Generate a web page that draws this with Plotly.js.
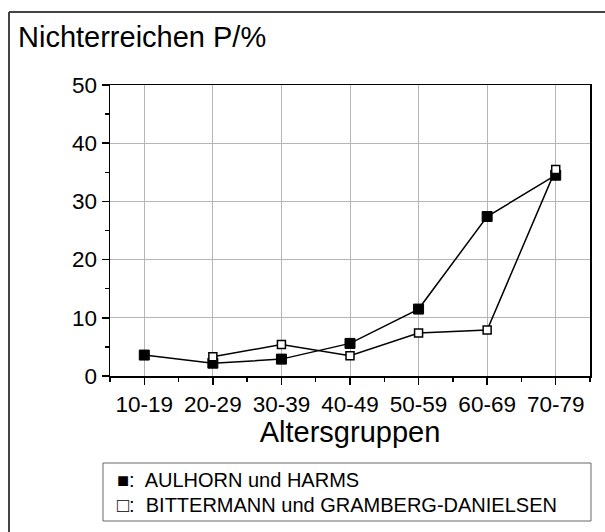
<!DOCTYPE html>
<html>
<head>
<meta charset="utf-8">
<script src="https://cdn.plot.ly/plotly-3.0.1.min.js"></script>
<style>html,body{margin:0;padding:0;background:#fff;}#chart{width:605px;height:532px;}</style>
</head>
<body>
<div id="chart"></div>
<script>
const categories = ["10-19","20-29","30-39","40-49","50-59","60-69","70-79"];
const seriesNames = ["AULHORN und HARMS","BITTERMANN und GRAMBERG-DANIELSEN"];
const aulhorn = [3.6, 2.2, 2.9, 5.6, 11.5, 27.4, 34.5];
const bittermann = [null, 3.3, 5.4, 3.5, 7.4, 7.9, 35.5];
const yTitle = "Nichterreichen P/%";
const xTitle = "Altersgruppen";

const idx = categories.map((c, i) => i);
const FONT = "Liberation Sans, Arial, sans-serif";

const traces = [
  {x: idx, y: aulhorn, name: seriesNames[0], type: "scatter", mode: "lines+markers",
   line: {color: "#000", width: 1.5},
   marker: {symbol: "square", size: 10, color: "#000", line: {color: "#000", width: 1}}},
  {x: idx, y: bittermann, name: seriesNames[1], type: "scatter", mode: "lines+markers",
   line: {color: "#000", width: 1.5},
   marker: {symbol: "square", size: 8, color: "#fff", line: {color: "#000", width: 1.5}}}
];

const pxX = p => (p - 110) / 480;
const pxY = p => (376 - p) / 291;

const layout = {
  width: 605, height: 532,
  margin: {l: 110, r: 15, t: 85, b: 156},
  paper_bgcolor: "#fff", plot_bgcolor: "#fff",
  showlegend: false,
  font: {family: FONT, color: "#000"},
  title: {text: yTitle, font: {size: 29, family: FONT, color: "#000"},
          x: 18/605, xanchor: "left", xref: "container",
          y: 1 - 37/532, yanchor: "middle", yref: "container"},
  xaxis: {
    range: [-0.5, 6.5], tickmode: "array", tickvals: idx, ticktext: categories,
    showgrid: true, gridcolor: "#b5b5b5", gridwidth: 1,
    zeroline: false, showline: true, mirror: true, linecolor: "#000", linewidth: 1.5,
    ticks: "outside", ticklen: 7, tickwidth: 1.5, tickcolor: "#000",
    minor: {tickmode: "array", tickvals: idx.slice(0, -1).map(i => i + 0.5).concat([-0.5, 6.5]), ticklen: 4, tickwidth: 1.5, tickcolor: "#000", showgrid: false, ticks: "outside"},
    tickfont: {size: 22.5, family: FONT, color: "#000"},
    title: {text: xTitle, font: {size: 29, family: FONT, color: "#000"}, standoff: 6},
    fixedrange: true
  },
  yaxis: {
    range: [0, 50], tickmode: "linear", tick0: 0, dtick: 10,
    showgrid: true, gridcolor: "#b5b5b5", gridwidth: 1,
    zeroline: false, showline: true, mirror: true, linecolor: "#000", linewidth: 1.5,
    ticks: "outside", ticklen: 7, tickwidth: 1.5, tickcolor: "#000",
    minor: {dtick: 5, tick0: 0, ticklen: 4, tickwidth: 1.5, tickcolor: "#000", showgrid: false, ticks: "outside"},
    tickfont: {size: 22.5, family: FONT, color: "#000"},
    fixedrange: true
  },
  shapes: [
    {type: "line", xref: "paper", yref: "paper", x0: pxX(9), x1: pxX(9), y0: pxY(12), y1: pxY(540), line: {color: "#444", width: 2}},
    {type: "line", xref: "paper", yref: "paper", x0: pxX(9), x1: pxX(620), y0: pxY(12), y1: pxY(12), line: {color: "#444", width: 2}},
    {type: "rect", xref: "paper", yref: "paper", x0: pxX(103), x1: pxX(591), y0: pxY(521), y1: pxY(463), line: {color: "#666", width: 1}, fillcolor: "rgba(0,0,0,0)"}
  ],
  annotations: [
    {xref: "paper", yref: "paper", x: pxX(115), y: pxY(480), xanchor: "left", yanchor: "middle", showarrow: false,
     text: "■:  " + seriesNames[0], font: {size: 20, family: FONT, color: "#000"}},
    {xref: "paper", yref: "paper", x: pxX(115), y: pxY(505), xanchor: "left", yanchor: "middle", showarrow: false,
     text: "□:  " + seriesNames[1], font: {size: 20, family: FONT, color: "#000"}}
  ]
};

Plotly.newPlot("chart", traces, layout, {staticPlot: true, displayModeBar: false});
</script>
</body>
</html>
